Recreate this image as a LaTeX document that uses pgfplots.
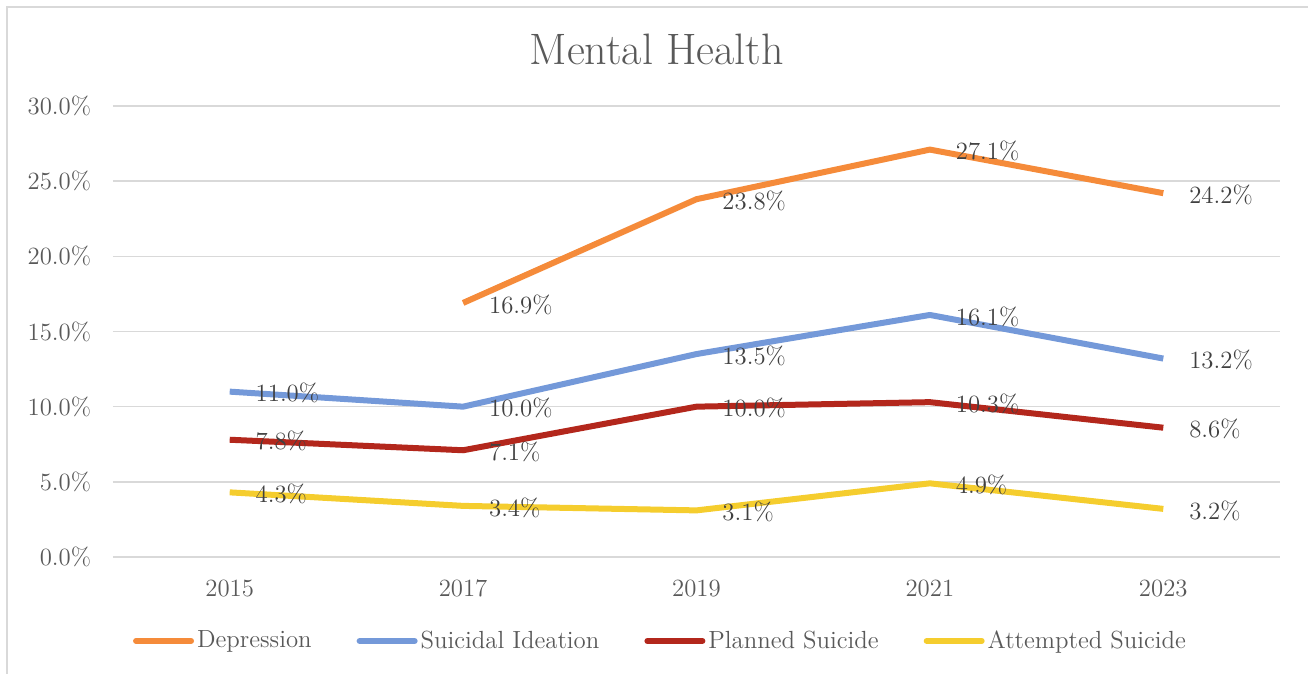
\documentclass[border=0pt]{standalone}
\usepackage{pgfplots}
\pgfplotsset{compat=1.18}
\definecolor{dep}{HTML}{F58B3A}
\definecolor{ide}{HTML}{7499D9}
\definecolor{pla}{HTML}{B3271C}
\definecolor{att}{HTML}{F5CD2E}
\definecolor{gridgray}{HTML}{D9D9D9}
\definecolor{ticktext}{HTML}{595959}
\definecolor{labeltext}{HTML}{404040}
\newcommand{\lf}{\fontsize{12.4}{15}\selectfont}
\begin{document}
\begin{tikzpicture}
\begin{axis}[
  at={(0,0)}, anchor=south west,
  scale only axis, width=583.5pt, height=225.5pt,
  xmin=-0.5, xmax=4.5, ymin=0, ymax=30,
  xtick={0,1,2,3,4}, xticklabels={2015,2017,2019,2021,2023},
  ytick={0,5,10,15,20,25,30},
  yticklabel={\pgfmathprintnumber[fixed,fixed zerofill,precision=1]{\tick}\%},
  /pgf/number format/assume math mode=true,
  ymajorgrids, grid style={color=gridgray, line width=0.75pt},
  axis line style={draw=none}, major tick length=0pt,
  tick label style={font=\lf, text=ticktext},
  yticklabel style={xshift=-7.4pt},
  xticklabel style={yshift=-8pt},
  title={Mental Health},
  title style={at={(0.466,1)}, anchor=base, yshift=14.5pt, font=\fontsize{22}{26}\selectfont, text=ticktext},
  legend columns=4,
  legend style={at={(0.4696,0)}, anchor=center, yshift=-42pt, draw=none, font=\lf, text=ticktext,
    cells={anchor=west}, nodes={inner sep=1.5pt},
    /tikz/every even column/.append style={column sep=21pt}},
  legend image code/.code={\draw[#1, line cap=round] (0pt,0pt) -- (27.5pt,0pt);},
  nodes near coords={\pgfmathprintnumber[fixed,fixed zerofill,precision=1]{\pgfplotspointmeta}\%},
  nodes near coords style={anchor=west, xshift=11.5pt, yshift=-0.8pt, inner sep=0pt, font=\lf, text=labeltext},
  clip=false,
]
\addplot[dep, line width=3pt, line join=round] coordinates {(1,16.9)(2,23.8)(3,27.1)(4,24.2)};
\addlegendentry{Depression}
\addplot[ide, line width=3pt, line join=round] coordinates {(0,11.0)(1,10.0)(2,13.5)(3,16.1)(4,13.2)};
\addlegendentry{Suicidal Ideation}
\addplot[pla, line width=3pt, line join=round] coordinates {(0,7.8)(1,7.1)(2,10.0)(3,10.3)(4,8.6)};
\addlegendentry{Planned Suicide}
\addplot[att, line width=3pt, line join=round] coordinates {(0,4.3)(1,3.4)(2,3.1)(3,4.9)(4,3.2)};
\addlegendentry{Attempted Suicide}
\end{axis}
\pgfresetboundingbox
\path[use as bounding box] (-56.5pt,-58.5pt) rectangle (597.5pt,278.5pt);
\draw[gridgray, line width=1pt] (-53pt,-58.5pt) -- (-53pt,275pt) -- (597.5pt,275pt);
\end{tikzpicture}
\end{document}
